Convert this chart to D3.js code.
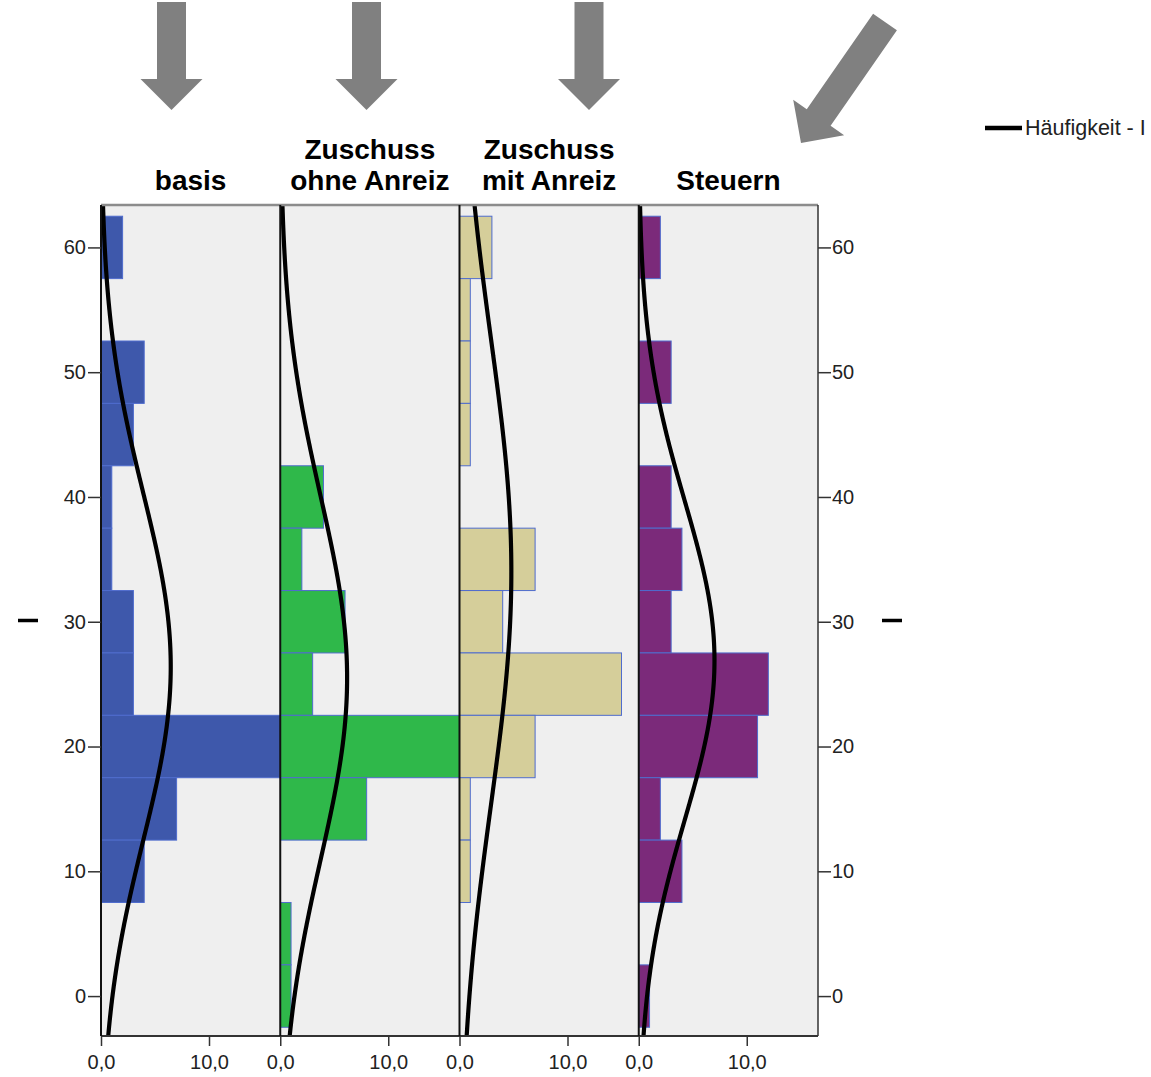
<!DOCTYPE html>
<html>
<head>
<meta charset="utf-8">
<script src="https://cdn.jsdelivr.net/npm/d3@7"></script>
<style>
  body { margin: 0; background: #fff; }
  svg { display: block; }
  text { font-family: "Liberation Sans", Arial, sans-serif; }
</style>
</head>
<body>
<svg id="chart" width="1151" height="1077"></svg>
<script>
// Panel titles (one entry per panel, split into lines)
const panelTitles = [["basis"], ["Zuschuss", "ohne Anreiz"], ["Zuschuss", "mit Anreiz"], ["Steuern"]];

// Histogram bins (centres, width 5) and counts per panel
const binCenters   = [60, 55, 50, 45, 40, 35, 30, 25, 20, 15, 10, 5, 0];
const basisCounts  = [2, 0, 4, 3, 1, 1, 3, 3, 17, 7, 4, 0, 0];
const ohneCounts   = [0, 0, 0, 0, 4, 2, 6, 3, 20, 8, 0, 1, 1];
const mitCounts    = [3, 1, 1, 1, 0, 7, 4, 15, 7, 1, 1, 0, 0];
const steuerCounts = [2, 0, 3, 0, 3, 4, 3, 12, 11, 2, 4, 0, 1];
const binWidth = 5;

// Normal-curve fit per panel
const fitMean = [26.4, 25.5, 34.0, 26.9];
const fitSD   = [13.9, 14.5, 18.7, 12.8];
const fitN    = [45, 45, 45, 45];

// Axis ticks
const yTicks = [0, 10, 20, 30, 40, 50, 60];
const xTicks = [0, 10];
const legendLabel = "Häufigkeit - I";

const panelCounts = [basisCounts, ohneCounts, mitCounts, steuerCounts];
const barColors = ["#3e58ab", "#2fb84a", "#d5ce9a", "#7b2a7a"];

const svg = d3.select("#chart");
const plot = { left: 101, right: 818, top: 205, bottom: 1036 };

const y = d3.scaleLinear().domain([-3.2, 63.4]).range([plot.bottom, plot.top]);
const panelBand = d3.scaleBand().domain(d3.range(panelTitles.length))
  .range([plot.left, plot.right]).paddingInner(0).paddingOuter(0);
const pw = panelBand.bandwidth();
const x = d3.scaleLinear().domain([0, pw / 10.8]).range([0, pw]);

// ---- pointer arrows above the panels ----
const arrows = [
  { x1: 171.5, y1: 2, x2: 171.5, y2: 110 },
  { x1: 366.5, y1: 2, x2: 366.5, y2: 110 },
  { x1: 589,   y1: 2, x2: 589,   y2: 110 },
  { x1: 885,   y1: 22, x2: 801,  y2: 143 }
];
function arrowPoints(a, w, hw, hl) {
  const dx = a.x2 - a.x1, dy = a.y2 - a.y1, L = Math.hypot(dx, dy);
  const ux = dx / L, uy = dy / L, nx = -uy, ny = ux;
  const bx = a.x2 - ux * hl, by = a.y2 - uy * hl;
  return [
    [a.x1 + nx * w / 2, a.y1 + ny * w / 2],
    [bx + nx * w / 2, by + ny * w / 2],
    [bx + nx * hw / 2, by + ny * hw / 2],
    [a.x2, a.y2],
    [bx - nx * hw / 2, by - ny * hw / 2],
    [bx - nx * w / 2, by - ny * w / 2],
    [a.x1 - nx * w / 2, a.y1 - ny * w / 2]
  ];
}
svg.append("g").selectAll("polygon").data(arrows).join("polygon")
  .attr("points", a => arrowPoints(a, 29, 62, 31).map(p => p.join(",")).join(" "))
  .attr("fill", "#808080");

// ---- panel titles ----
const titles = svg.append("g");
panelTitles.forEach((lines, i) => {
  const cx = panelBand(i) + pw / 2;
  const n = lines.length;
  lines.forEach((t, j) => {
    titles.append("text")
      .attr("x", cx)
      .attr("y", 190 - (n - 1 - j) * 31.5)
      .attr("text-anchor", "middle")
      .attr("font-size", 28)
      .attr("font-weight", "bold")
      .attr("fill", "#000")
      .text(t);
  });
});

// ---- panel backgrounds ----
svg.append("rect")
  .attr("x", plot.left).attr("y", plot.top)
  .attr("width", plot.right - plot.left).attr("height", plot.bottom - plot.top)
  .attr("fill", "#efefef");

const defs = svg.append("defs");
panelTitles.forEach((_, i) => {
  defs.append("clipPath").attr("id", "clip" + i)
    .append("rect")
    .attr("x", panelBand(i)).attr("y", plot.top)
    .attr("width", pw).attr("height", plot.bottom - plot.top);
});

// ---- histogram bars and fitted curves ----
const curveLine = d3.line().x(d => d[0]).y(d => d[1]).curve(d3.curveBasis);
panelTitles.forEach((_, i) => {
  const x0 = panelBand(i);
  const g = svg.append("g").attr("clip-path", `url(#clip${i})`);
  const rows = binCenters.map((c, k) => ({ c, v: panelCounts[i][k] })).filter(d => d.v > 0);
  g.selectAll("rect").data(rows).join("rect")
    .attr("x", x0 + x(0))
    .attr("y", d => y(d.c + binWidth / 2))
    .attr("width", d => x(d.v))
    .attr("height", d => y(d.c - binWidth / 2) - y(d.c + binWidth / 2))
    .attr("fill", barColors[i])
    .attr("stroke", "#4f6ccd")
    .attr("stroke-width", 1);

  const mu = fitMean[i], sd = fitSD[i], scale = fitN[i] * binWidth;
  const vals = d3.range(y.domain()[0], y.domain()[1] + 0.25, 0.25);
  const pts = vals.map(v => {
    const z = (v - mu) / sd;
    const dens = scale * Math.exp(-0.5 * z * z) / (sd * Math.sqrt(2 * Math.PI));
    return [x0 + x(dens), y(v)];
  });
  g.append("path").attr("d", curveLine(pts))
    .attr("fill", "none").attr("stroke", "#000").attr("stroke-width", 4.2)
    .attr("stroke-linejoin", "round");
});

// ---- frame and panel separators ----
svg.append("line").attr("x1", plot.left).attr("x2", plot.right)
  .attr("y1", plot.top).attr("y2", plot.top)
  .attr("stroke", "#8c8c8c").attr("stroke-width", 2.5);
svg.append("line").attr("x1", plot.left).attr("x2", plot.right)
  .attr("y1", plot.bottom).attr("y2", plot.bottom)
  .attr("stroke", "#333").attr("stroke-width", 2);
svg.append("line").attr("x1", plot.right).attr("x2", plot.right)
  .attr("y1", plot.top).attr("y2", plot.bottom)
  .attr("stroke", "#333").attr("stroke-width", 1.5);
panelTitles.forEach((_, i) => {
  svg.append("line")
    .attr("x1", panelBand(i)).attr("x2", panelBand(i))
    .attr("y1", plot.top).attr("y2", plot.bottom)
    .attr("stroke", "#111").attr("stroke-width", 2);
});

// ---- y axes (left and right) ----
const leftAxis = svg.append("g").attr("transform", `translate(${plot.left},0)`)
  .call(d3.axisLeft(y).tickValues(yTicks).tickSize(13).tickPadding(2).tickFormat(d3.format("d")));
const rightAxis = svg.append("g").attr("transform", `translate(${plot.right},0)`)
  .call(d3.axisRight(y).tickValues(yTicks).tickSize(13).tickPadding(1).tickFormat(d3.format("d")));
[leftAxis, rightAxis].forEach(a => {
  a.select(".domain").remove();
  a.selectAll(".tick line").attr("stroke", "#333").attr("stroke-width", 1.5);
  a.selectAll(".tick text").attr("font-size", 20).attr("fill", "#222")
    .attr("font-family", "'Liberation Sans', Arial, sans-serif");
});

// ---- x axes per panel ----
const commaFmt = d => d3.format(".1f")(d).replace(".", ",");
panelTitles.forEach((_, i) => {
  const ax = svg.append("g").attr("transform", `translate(${panelBand(i)},${plot.bottom})`)
    .call(d3.axisBottom(x).tickValues(xTicks).tickSize(10).tickPadding(9).tickFormat(commaFmt));
  ax.select(".domain").remove();
  ax.selectAll(".tick line").attr("stroke", "#333").attr("stroke-width", 1.5);
  ax.selectAll(".tick text").attr("font-size", 20).attr("fill", "#222")
    .attr("font-family", "'Liberation Sans', Arial, sans-serif");
});

// ---- axis title dashes ----
const midY = (plot.top + plot.bottom) / 2;
[[18, 38], [882, 902]].forEach(([a, b]) => {
  svg.append("line").attr("x1", a).attr("x2", b).attr("y1", midY).attr("y2", midY)
    .attr("stroke", "#000").attr("stroke-width", 3.5);
});

// ---- legend ----
const lg = svg.append("g").attr("transform", "translate(985,128)");
lg.append("line").attr("x1", 0).attr("x2", 37).attr("y1", 0).attr("y2", 0)
  .attr("stroke", "#000").attr("stroke-width", 4.5);
lg.append("text").attr("x", 40).attr("y", 7).attr("font-size", 21.5).attr("fill", "#222")
  .text(legendLabel);
</script>
</body>
</html>
